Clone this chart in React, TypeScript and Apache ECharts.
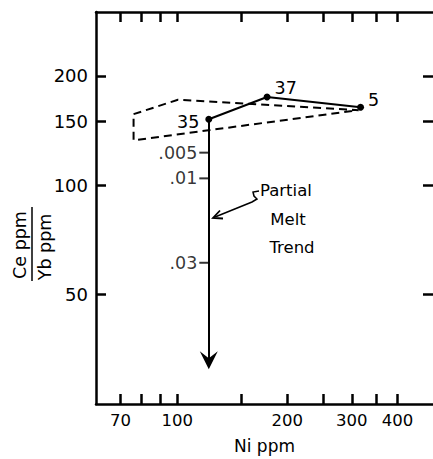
import React, { useEffect, useRef } from "react";
import * as echarts from "echarts";

// Axis ranges and ticks (in ppm / ratio units, log scale)
const xRange = [60, 500];
const yRange = [25, 300];
const xTickValues = [70, 80, 90, 100, 150, 200, 250, 300, 350, 400];
const xLabelValues = [70, 100, 200, 300, 400];
const yTickValues = [50, 100, 150, 200];

// Samples
const sampleNames = ["35", "37", "5"];
const sampleNi = [122, 176, 317];
const sampleRatio = [152, 175, 164];

// Dashed field outline
const fieldNi = [76, 100.5, 313, 76, 76];
const fieldRatio = [157, 172, 161, 133, 157];

// Partial melt trend
const trendNi = [122, 122];
const trendRatio = [152, 33];
const meltLabels = [".005", ".01", ".03"];
const meltRatio = [123, 104.5, 61.2];

const L = (v: number) => Math.log10(v);
const FONT = "DejaVu Sans";

export default function App() {
  const ref = useRef<HTMLDivElement>(null);
  useEffect(() => {
    if (!ref.current) return;
    const chart = echarts.init(ref.current, null, { renderer: "svg" });
    const axisLine = { show: true, lineStyle: { color: "#000", width: 2.5 } };
    const tickStyle = { color: "#000", width: 2.5 };
    const fmt = (v: number) => String(Math.round(Math.pow(10, v)));
    const labelStyle = { color: "#000", fontSize: 16, fontFamily: FONT };

    const sampleLabelCfg = [
      { position: "left", distance: 6, offset: [0, 3] },
      { position: "right", distance: 4, offset: [0, -9] },
      { position: "right", distance: 4, offset: [0, -7] },
    ];

    const option: any = {
      animation: false,
      backgroundColor: "#fff",
      grid: { left: 96, top: 12, bottom: 52, right: -2, containLabel: false },
      xAxis: [
        {
          type: "value",
          position: "bottom",
          min: L(xRange[0]),
          max: L(xRange[1]),
          axisLine,
          axisTick: { show: true, inside: true, length: 10, lineStyle: tickStyle, customValues: xTickValues.map(L) },
          axisLabel: { ...labelStyle, fontSize: 16.5, margin: 8, customValues: xLabelValues.map(L), formatter: fmt },
          splitLine: { show: false },
          name: "Ni ppm",
          nameLocation: "middle",
          nameGap: 33,
          nameTextStyle: { ...labelStyle, fontSize: 17 },
        },
        {
          type: "value",
          position: "top",
          min: L(xRange[0]),
          max: L(xRange[1]),
          axisLine,
          axisTick: { show: true, inside: true, length: 10, lineStyle: tickStyle, customValues: xTickValues.map(L) },
          axisLabel: { show: false },
          splitLine: { show: false },
        },
      ],
      yAxis: [
        {
          type: "value",
          position: "left",
          min: L(yRange[0]),
          max: L(yRange[1]),
          axisLine,
          axisTick: { show: true, inside: true, length: 10, lineStyle: tickStyle, customValues: yTickValues.map(L) },
          axisLabel: { ...labelStyle, fontSize: 18, margin: 8, customValues: yTickValues.map(L), formatter: fmt },
          splitLine: { show: false },
        },
        {
          type: "value",
          position: "right",
          min: L(yRange[0]),
          max: L(yRange[1]),
          axisLine: { show: false },
          axisTick: { show: true, inside: true, length: 10, lineStyle: tickStyle, customValues: yTickValues.map(L) },
          axisLabel: { show: false },
          splitLine: { show: false },
        },
      ],
      series: [
        {
          type: "line",
          name: "field",
          data: fieldNi.map((x, i) => [L(x), L(fieldRatio[i])]),
          symbol: "none",
          lineStyle: { color: "#000", width: 2, type: [8, 5] },
          silent: true,
        },
        {
          type: "lines",
          coordinateSystem: "cartesian2d",
          polyline: false,
          data: [
            {
              coords: trendNi.map((x, i) => [L(x), L(trendRatio[i])]),
            },
          ],
          symbol: ["none", "path://M5,0 L10,18 L5,11 L0,18 Z"],
          symbolSize: [10, 18],
          lineStyle: { color: "#000", width: 2, opacity: 1, curveness: 0 },
          silent: true,
        },
        {
          type: "scatter",
          name: "melt",
          data: meltRatio.map((y, i) => ({ value: [L(trendNi[0]), L(y)], name: meltLabels[i] })),
          symbol: "rect",
          symbolSize: [9, 2],
          symbolOffset: [-5, 0],
          itemStyle: { color: "#000" },
          label: {
            show: true,
            position: "left",
            distance: 2,
            formatter: (p: any) => p.name,
            ...labelStyle,
            fontSize: 17.5,
          },
          silent: true,
        },
        {
          type: "line",
          name: "samples",
          data: sampleNi.map((x, i) => ({
            value: [L(x), L(sampleRatio[i])],
            name: sampleNames[i],
            label: sampleLabelCfg[i],
          })),
          symbol: "circle",
          symbolSize: 7,
          itemStyle: { color: "#000" },
          lineStyle: { color: "#000", width: 2 },
          label: { show: true, formatter: (p: any) => p.name, ...labelStyle, fontSize: 17.5 },
          silent: true,
        },
      ],
      graphic: [
        {
          type: "text",
          x: 20,
          y: 245,
          rotation: Math.PI / 2,
          style: { text: "Ce ppm", align: "center", verticalAlign: "middle", fill: "#000", font: `17.5px "${FONT}"` },
        },
        {
          type: "line",
          shape: { x1: 32, y1: 207, x2: 32, y2: 281 },
          style: { stroke: "#000", lineWidth: 1.5 },
        },
        {
          type: "text",
          x: 45,
          y: 247,
          rotation: Math.PI / 2,
          style: { text: "Yb ppm", align: "center", verticalAlign: "middle", fill: "#000", font: `17.5px "${FONT}"` },
        },
        {
          type: "text",
          x: 260,
          y: 190,
          style: { text: "Partial", align: "left", verticalAlign: "middle", fill: "#000", font: `16.5px "${FONT}"` },
        },
        {
          type: "text",
          x: 288,
          y: 219,
          style: { text: "Melt", align: "center", verticalAlign: "middle", fill: "#000", font: `16.5px "${FONT}"` },
        },
        {
          type: "text",
          x: 292,
          y: 247,
          style: { text: "Trend", align: "center", verticalAlign: "middle", fill: "#000", font: `16.5px "${FONT}"` },
        },
        {
          type: "polyline",
          shape: { points: [[259, 191], [253, 192], [254, 196], [257, 199], [252, 202], [215, 217]] },
          style: { stroke: "#000", lineWidth: 1.5, fill: null },
        },
        {
          type: "polyline",
          shape: { points: [[220, 210.5], [213, 218], [223, 218.5]] },
          style: { stroke: "#000", lineWidth: 1.8, fill: null },
        },
      ],
    };
    chart.setOption(option);
    return () => chart.dispose();
  }, []);
  return (
    <div
      ref={ref}
      style={{ position: "absolute", left: 0, top: 0, width: 433, height: 459, background: "#fff" }}
    />
  );
}
